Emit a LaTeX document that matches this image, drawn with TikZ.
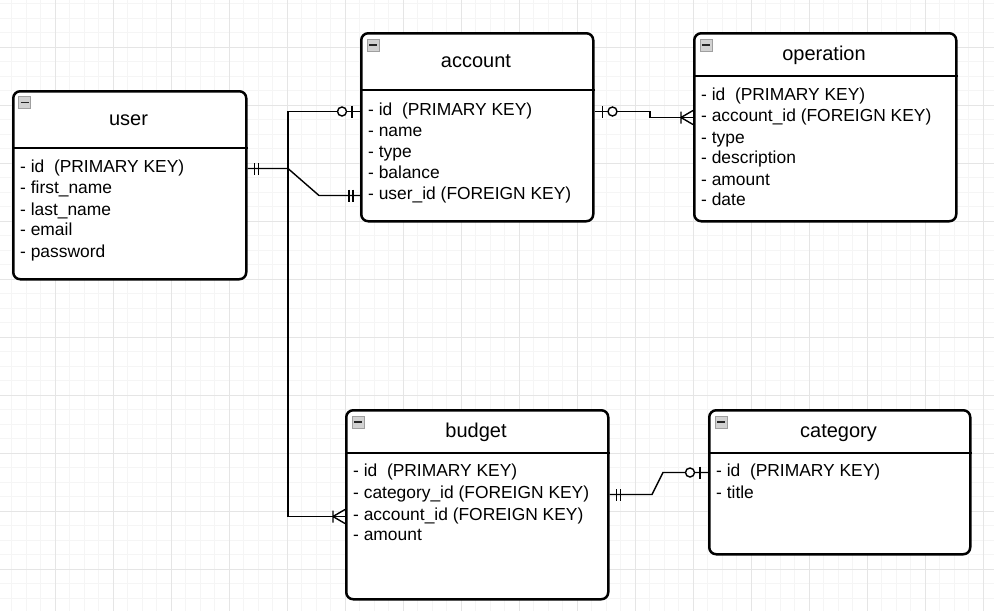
\documentclass[tikz,border=0pt]{standalone}
\usepackage{fontspec}
\setmainfont{Liberation Sans}
\tikzset{
  tablebox/.style={draw, fill=white, line width=2.5pt, rounded corners=7pt, anchor=north west, inner sep=0pt},
  headline/.style={line width=2.5pt},
  title/.style={inner sep=0pt, yshift=-1.5pt, text height=14.5pt, text depth=4.2pt, font=\fontsize{20}{24}\selectfont},
  field/.style={anchor=west, inner sep=0pt, yshift=-1.5pt, text height=12.6pt, text depth=3.8pt, font=\fontsize{17.4}{20}\selectfont},
  conn/.style={line width=1.4pt, line join=miter},
  gridminor/.style={line width=0.8pt, gray!8},
  gridmajor/.style={line width=0.9pt, gray!20},
  minusicon/.style={draw=gray!75, fill=gray!35, line width=0.9pt, minimum size=12pt, inner sep=0pt,
    path picture={\draw[black!85, line width=1.5pt] ([xshift=2pt]path picture bounding box.west) -- ([xshift=-2pt]path picture bounding box.east);}},
  bars/.pic={\draw[conn] (-7,-6) -- (-7,6) (-11,-6) -- (-11,6);},
  zeroone/.pic={\draw[conn] (-8,-6) -- (-8,6); \draw[conn, fill=white] (-18,0) circle (4.5pt);},
  crowfoot/.pic={\draw[conn] (-12,-6) -- (-12,6) (0,-7) -- (-12,0) -- (0,7);},
}
\begin{document}
\begin{tikzpicture}[x=1pt,y=-1pt]
  \useasboundingbox (0,0) rectangle (994,611);
  \fill[white] (0,0) rectangle (994,611);
%%
  % Grid
\begin{scope}
  \clip (0,0) rectangle (994,611);
  \foreach \i in {0,...,69} \draw[gridminor] ({-3+14.5*\i},0) -- ++(0,611);
  \foreach \i in {1,...,43} \draw[gridminor] (0,{-11+14.5*\i}) -- ++(994,0);
  \foreach \i in {0,...,17} \draw[gridmajor] ({-3+58*\i},0) -- ++(0,611);
  \foreach \i in {1,...,10} \draw[gridmajor] (0,{-11+58*\i}) -- ++(994,0);
\end{scope}
  % Node: user
\begin{scope}
  \node[tablebox, minimum width=233pt, minimum height=188pt] (user) at (12,90) {};
  \draw[headline] (user.west |- 0,148) -- (user.east |- 0,148);
  \node[minusicon] (user-icon) at (24.5,102.5) {};
  \node[title] (user-title) at (128.5,119) {user};
  \node[field] (user-id) at (20,167) {- id\ \ (PRIMARY KEY)};
  \node[field] (user-first) at (20,188) {- first\_name};
  \node[field] (user-last) at (20,210) {- last\_name};
  \node[field] (user-email) at (20,230) {- email};
  \node[field] (user-pass) at (20,252) {- password};
\end{scope}
  % Node: account
\begin{scope}
  \node[tablebox, minimum width=232pt, minimum height=188pt] (account) at (360,32) {};
  \draw[headline] (account.west |- 0,90) -- (account.east |- 0,90);
  \node[minusicon] (account-icon) at (373,45) {};
  \node[title] (account-title) at (476,61) {account};
  \node[field] (account-id) at (368,110) {- id\ \ (PRIMARY KEY)};
  \node[field] (account-name) at (368,131) {- name};
  \node[field] (account-type) at (368,152) {- type};
  \node[field] (account-bal) at (368,173) {- balance};
  \node[field] (account-uid) at (368,194) {- user\_id (FOREIGN KEY)};
\end{scope}
  % Node: operation
\begin{scope}
  \node[tablebox, minimum width=262pt, minimum height=188pt] (operation) at (693,32) {};
  \draw[headline] (operation.west |- 0,76) -- (operation.east |- 0,76);
  \node[minusicon] (operation-icon) at (706,45) {};
  \node[title] (operation-title) at (824,54) {operation};
  \node[field] (operation-id) at (701,95) {- id\ \ (PRIMARY KEY)};
  \node[field] (operation-acc) at (701,116) {- account\_id (FOREIGN KEY)};
  \node[field] (operation-type) at (701,138) {- type};
  \node[field] (operation-desc) at (701,158) {- description};
  \node[field] (operation-amt) at (701,180) {- amount};
  \node[field] (operation-date) at (701,200) {- date};
\end{scope}
  % Node: budget
\begin{scope}
  \node[tablebox, minimum width=262pt, minimum height=189pt] (budget) at (345,409) {};
  \draw[headline] (budget.west |- 0,453) -- (budget.east |- 0,453);
  \node[minusicon] (budget-icon) at (358,422) {};
  \node[title] (budget-title) at (476,431) {budget};
  \node[field] (budget-id) at (353,471) {- id\ \ (PRIMARY KEY)};
  \node[field] (budget-cat) at (353,493) {- category\_id (FOREIGN KEY)};
  \node[field] (budget-acc) at (353,515) {- account\_id (FOREIGN KEY)};
  \node[field] (budget-amt) at (353,535) {- amount};
\end{scope}
  % Node: category
\begin{scope}
  \node[tablebox, minimum width=261pt, minimum height=144pt] (category) at (708,409) {};
  \draw[headline] (category.west |- 0,453) -- (category.east |- 0,453);
  \node[minusicon] (category-icon) at (721,422) {};
  \node[title] (category-title) at (838.5,431) {category};
  \node[field] (category-id) at (716,471) {- id\ \ (PRIMARY KEY)};
  \node[field] (category-title2) at (716,493) {- title};
\end{scope}
%
  \coordinate (jct) at (288,0);
  \coordinate (kink) at (319,0);
  \coordinate (bend) at (650,0);
  \coordinate (kinka) at (652,0);
  \coordinate (kinkb) at (663,0);
  % Edge: account -> budget
  \draw[conn] (account.west |- account-id) -| (jct |- user-id) |- (budget.west |- budget-acc);
  \pic at (account.west |- account-id) {zeroone};
  \pic at (budget.west |- budget-acc) {crowfoot};
  % Edge: user -> account
  \draw[conn] (user.east |- user-id) -- (jct |- user-id) -- (kink |- account-uid) -- (account.west |- account-uid);
  \pic[rotate=180] at (user.east |- user-id) {bars};
  \pic at (account.west |- account-uid) {bars};
  % Edge: account -> operation
  \draw[conn] (account.east |- account-id) -| (bend |- operation-acc) -- (operation.west |- operation-acc);
  \pic[rotate=180] at (account.east |- account-id) {zeroone};
  \pic at (operation.west |- operation-acc) {crowfoot};
  % Edge: budget -> category
  \draw[conn] (budget.east |- budget-cat) -- (kinka |- budget-cat) -- (kinkb |- category-id) -- (category.west |- category-id);
  \pic[rotate=180] at (budget.east |- budget-cat) {bars};
  \pic at (category.west |- category-id) {zeroone};
%
\end{tikzpicture}
\end{document}
